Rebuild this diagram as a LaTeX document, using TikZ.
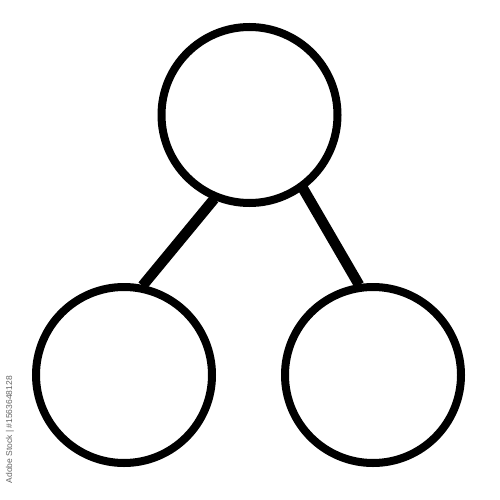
\documentclass[tikz,border=0pt]{standalone}
\usepackage{fontspec}
\setsansfont{Liberation Sans}
\begin{document}
\begin{tikzpicture}[x=1pt,y=-1pt,
  ring/.style={circle,draw=black,line width=8pt,fill=white,inner sep=0pt,minimum size=176pt},
  bar/.style={draw=black,line width=10.5pt},
  wm/.style={text=black!60,font=\sffamily\fontsize{8.5}{8.5}\selectfont,inner sep=0pt}]
\useasboundingbox (0,0) rectangle (500,500);
\fill[white] (0,0) rectangle (500,500);
\node[ring] (top) at (249.5,115) {};
\node[ring] (left) at (124,375) {};
\node[ring] (right) at (373,375) {};
\draw[bar,shorten <=-1pt,shorten >=-1pt] (top.247.5) -- (left.78.5);
\draw[bar,shorten <=-1pt,shorten >=-1pt] (top.306.8) -- (right.99.9);
\node[wm,rotate=90,anchor=east] (id) at (10,376) {Adobe Stock | \#1563648128};
\end{tikzpicture}
\end{document}
